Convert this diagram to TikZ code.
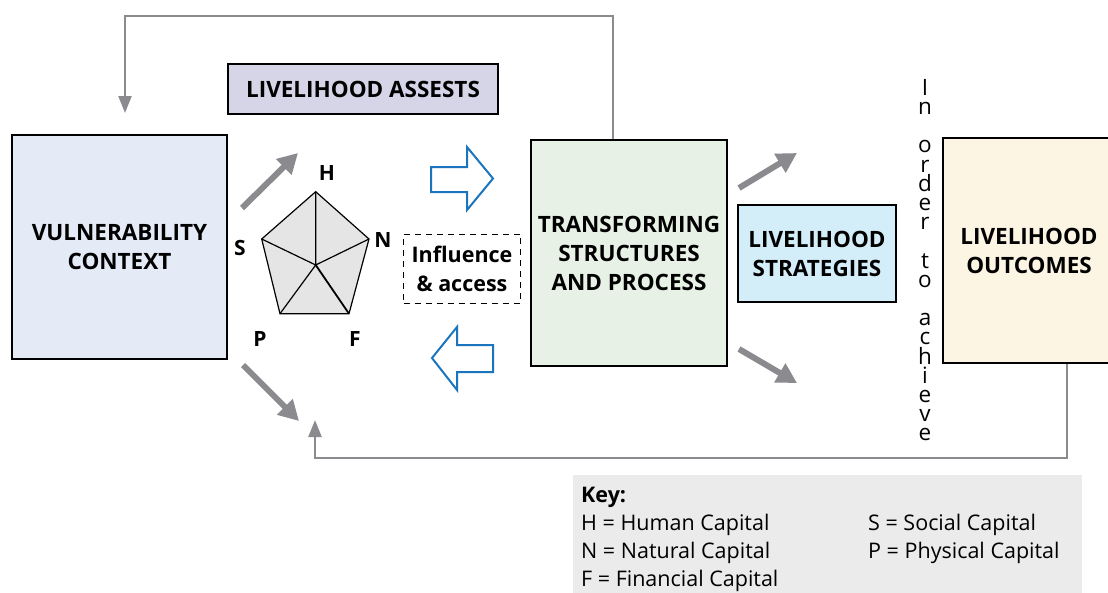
\documentclass[tikz,border=0pt]{standalone}
\usepackage{fontspec}
\setmainfont{Open Sans}
\usetikzlibrary{arrows.meta}
\definecolor{vulnfill}{HTML}{E4EAF6}
\definecolor{assetfill}{HTML}{D6D4E7}
\definecolor{transfill}{HTML}{E7F1E5}
\definecolor{stratfill}{HTML}{D3EDF9}
\definecolor{outcfill}{HTML}{FDF5E4}
\definecolor{keyfill}{HTML}{EBEBEB}
\definecolor{pentfill}{HTML}{E5E5E5}
\definecolor{flowgray}{HTML}{8B8B8F}
\definecolor{accessblue}{HTML}{1A75BE}
\tikzset{
  box/.style={draw=black, line width=1.1pt, inner sep=0pt, align=center,
    font=\bfseries\fontsize{22.5}{29}\selectfont},
  feedback/.style={draw=flowgray, line width=2.4pt,
    -{Triangle[length=17pt,width=13pt]}},
  bigarrow/.style={draw=flowgray, line width=6pt,
    -{Triangle[length=20pt,width=21pt]}},
  hollow/.style={draw=accessblue, line width=2pt, fill=white, line join=miter},
  caplabel/.style={font=\bfseries\fontsize{21}{24}\selectfont, inner sep=0pt},
  keytext/.style={font=\fontsize{21.5}{24}\selectfont, inner sep=0pt, anchor=base west},
}
\begin{document}
\begin{tikzpicture}[x=1pt,y=-1pt]
\useasboundingbox (0,0) rectangle (1108,592);

% main boxes
\node[box, fill=vulnfill, minimum width=215pt, minimum height=224pt] (vuln) at (119.5,247) {VULNERABILITY\\CONTEXT};
\node[box, fill=assetfill, minimum width=270pt, minimum height=50pt] (assets) at (363,89) {LIVELIHOOD ASSESTS};
\node[box, fill=transfill, minimum width=196pt, minimum height=226pt] (trans) at (629,253) {TRANSFORMING\\STRUCTURES\\AND PROCESS};
\node[box, fill=stratfill, minimum width=158pt, minimum height=97pt] (strat) at (817,253.5) {LIVELIHOOD\\STRATEGIES};
\node[box, fill=outcfill, minimum width=172pt, minimum height=225pt, text width=150pt] (outc) at (1029,250.5) {LIVELIHOOD\\OUTCOMES};

% dashed influence box
\node[draw=black, line width=1pt, dash pattern=on 6pt off 5pt, minimum width=117pt, minimum height=69pt,
  inner sep=0pt, align=center, font=\bfseries\fontsize{21.5}{29}\selectfont] (infl) at (462,268.5) {Influence\\\& access};

% vertical lettering
\node[font=\fontsize{22.5}{19.2}\selectfont, align=center, anchor=north, inner sep=0pt] (achieve) at (925,79)
  {I\\n\\[19.2pt]o\\r\\d\\e\\r\\[19.2pt]t\\o\\[19.2pt]a\\c\\h\\i\\e\\v\\e};

% asset pentagon
\coordinate (pH) at (315.7,191.7);
\coordinate (pN) at (369,239);
\coordinate (pF) at (349,313.7);
\coordinate (pP) at (280,313.7);
\coordinate (pS) at (261.7,239);
\coordinate (pO) at (315.7,265);
\draw[fill=pentfill, line width=1.2pt, line join=miter] (pH) -- (pN) -- (pF) -- (pP) -- (pS) -- cycle;
\draw[line width=1.2pt] (pO) -- (pH) (pO) -- (pN) (pO) -- (pS) (pO) -- (pP);
\draw[line width=1.8pt] (pO) -- (pF);
\node[caplabel] (lH) at (327,173) {H};
\node[caplabel] (lN) at (383,240) {N};
\node[caplabel] (lS) at (240,248) {S};
\node[caplabel] (lP) at (260,339) {P};
\node[caplabel] (lF) at (355,339) {F};

% grey flow arrows
\coordinate (a1s) at (242,208); \coordinate (a1e) at (298,153);
\coordinate (a2s) at (243,365); \coordinate (a2e) at (299,421);
\coordinate (a3s) at (739,188); \coordinate (a3e) at (797,153);
\coordinate (a4s) at (739,349); \coordinate (a4e) at (797,383);
\draw[bigarrow] (a1s) -- (a1e);
\draw[bigarrow] (a2s) -- (a2e);
\draw[bigarrow] (a3s) -- (a3e);
\draw[bigarrow] (a4s) -- (a4e);

% hollow influence arrows
\draw[hollow] (431,167) -- (467,167) -- (467,147) -- (493,178.5) -- (467,210) -- (467,192) -- (431,192) -- cycle;
\draw[hollow] (432,358) -- (457,327) -- (457,345) -- (493,345) -- (493,372) -- (457,372) -- (457,390) -- cycle;

% feedback loops
\coordinate (topturn) at (125,16);
\coordinate (vulnin) at (125,113);
\draw[feedback] ([xshift=-16pt]trans.north) |- (topturn) -- (vulnin);
\coordinate (botturn) at (315,458);
\coordinate (assetin) at (315,420);
\draw[feedback] ([xshift=38pt]outc.south) |- (botturn) -- (assetin);

% key
\node[fill=keyfill, minimum width=509pt, minimum height=125pt, anchor=north west, inner sep=0pt] (key) at (573,475) {};
\node[keytext, font=\bfseries\fontsize{21.5}{24}\selectfont] (keyt) at (581,502) {Key:};
\node[keytext] (kH) at (581,530) {H = Human Capital};
\node[keytext] (kN) at (581,558) {N = Natural Capital};
\node[keytext] (kF) at (581,586) {F = Financial Capital};
\node[keytext] (kS) at (868,530) {S = Social Capital};
\node[keytext] (kP) at (868,558) {P = Physical Capital};
\end{tikzpicture}
\end{document}
